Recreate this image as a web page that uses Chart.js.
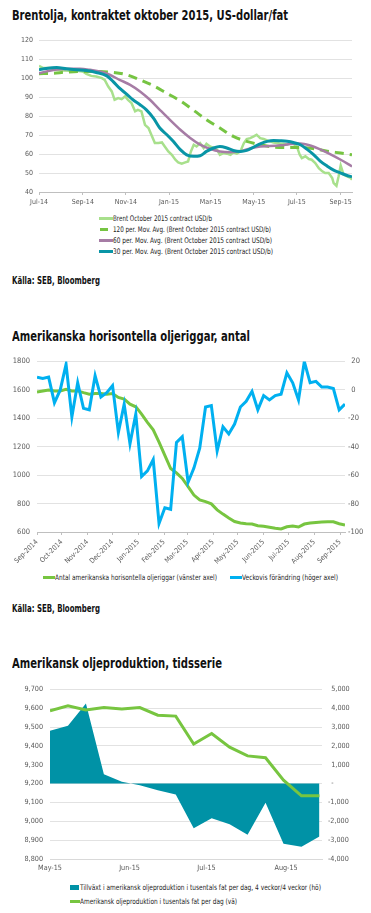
<!DOCTYPE html>
<html>
<head>
<meta charset="utf-8">
<script src="https://cdn.jsdelivr.net/npm/chart.js@4.4.0/dist/chart.umd.min.js"></script>
<style>
  body { margin: 0; width: 371px; height: 913px; background: #fff; position: relative; overflow: hidden;
         font-family: 'Liberation Sans Narrow', 'DejaVu Sans Condensed', 'Arial Narrow', sans-serif; }
  .title { position: absolute; left: 12px; font-weight: bold; font-size: 13.5px; line-height: 16px; color: #111; white-space: nowrap; }
  .source { position: absolute; left: 12px; font-weight: bold; font-size: 10.5px; line-height: 12px; color: #111; white-space: nowrap; }
  canvas { position: absolute; left: 0; }
  .legend { position: absolute; font-size: 7.7px; color: #222; white-space: nowrap; }
  .legend .item { display: flex; align-items: center; }
  .legend .swatch { display: inline-block; flex: none; }
  .legend .txt { display: inline-block; }
</style>
</head>
<body>
<div class="title" data-w="276" style="top:7px">Brentolja, kontraktet oktober 2015, US-dollar/fat</div>
<canvas id="brent" width="371" height="182" style="top:30px"></canvas>
<div class="legend" id="brentLegend" style="left:99px; top:213px"></div>
<div class="source" data-w="88" style="top:274px">Källa: SEB, Bloomberg</div>

<div class="title" data-w="238" style="top:328px">Amerikanska horisontella oljeriggar, antal</div>
<canvas id="rigs" width="371" height="220" style="top:350px"></canvas>
<div class="legend" id="rigsLegend" style="left:43px; top:572px; width:320px; height:11px"></div>
<div class="source" data-w="88" style="top:602px">Källa: SEB, Bloomberg</div>

<div class="title" data-w="210" style="top:655px">Amerikansk oljeproduktion, tidsserie</div>
<canvas id="prod" width="371" height="200" style="top:678px"></canvas>
<div class="legend" id="prodLegend" style="left:70px; top:880px"></div>

<script>
// ---- Brentolja (dagar från 1 jul 2014) ----
const brentTickDays = [0, 62, 123, 184, 243, 304, 365, 427];
const brentTickLabels = ['Jul-14', 'Sep-14', 'Nov-14', 'Jan-15', 'Mar-15', 'May-15', 'Jul-15', 'Sep-15'];
const brentSeriesNames = [
  'Brent October 2015 contract USD/b',
  '120 per. Mov. Avg. (Brent October 2015 contract USD/b)',
  '60 per. Mov. Avg. (Brent October 2015 contract USD/b)',
  '30 per. Mov. Avg. (Brent October 2015 contract USD/b)'
];
const brentDays = [0,6,15,25,34,44,53,62,67,74,81,89,93,98,103,107,112,117,122,126,131,136,140,145,150,155,159,164,169,174,178,183,188,193,197,202,207,211,215,219,223,228,233,237,242,247,252,256,261,266,271,275,280,285,290,294,299,304,308,313,318,323,327,332,337,342,346,351,356,360,365,369,372,377,382,386,391,396,401,405,410,415,417,421,424,427,431,436,441,443];
const brentPrice = [106.5,105.3,105.3,104.7,104,103.9,103.9,103.5,102.3,101.2,100.9,100,99.1,95.6,93,88.6,89.5,88.9,90.4,88.6,86.8,82.5,83.3,82.5,75.4,73.7,70.2,65.8,65.8,66.1,64,61.4,59.6,57,55.6,54.9,55.6,56.1,61.4,64.9,64,65.8,63.2,65.4,64,63.2,62.3,59.6,60.5,60.2,59.6,60.9,60.2,61.4,65.8,67.9,68.4,69.3,70.2,68.4,67.9,67.2,66.7,66.1,65.8,65.4,65.4,64.9,65.8,65.4,64,59.6,57.9,58.8,57.4,57,55.3,52.6,50.9,50,50,47.4,44.7,43.3,48.2,53.9,49.1,48.2,47.4,46.5];
const ma120Days = [0,20,39,62,86,105,124,143,162,181,200,219,237,256,275,294,313,332,351,370,389,408,427,443];
const ma120 = [102.3,102.6,103.2,103.5,103.5,103,101.8,99.1,96,92,88,83,78.1,73.7,69.3,66.7,64.9,63.7,63.5,63.5,62.8,61.5,60.5,59.6];
const ma60Days = [0,15,29,44,58,72,86,100,114,129,143,157,171,185,200,214,228,242,256,271,285,299,313,327,342,356,370,384,398,412,427,443];
const ma60 = [102.6,103.9,104.7,104.9,104.9,104.4,103.5,101.8,99.1,96.5,93,88.6,83.3,78.1,72.8,68.5,65,62.8,61.4,61,61.4,63,64,64.2,64.6,65.3,65.6,64.5,62.5,60,57,53.5];
const ma30Days = [0,10,25,39,53,67,81,96,105,114,124,133,143,152,162,171,181,190,200,209,219,228,237,247,256,266,275,285,294,304,313,323,332,342,351,360,370,379,389,398,408,417,427,436,443];
const ma30 = [104.4,105.1,105.6,104.9,104.4,104,103,101.2,98.2,94.7,91.6,88.6,86,83.3,78.9,73.7,70.2,66.7,62.3,59.6,58.8,59.1,61.4,63.2,64,63.2,61.9,61.4,61.9,63.7,65.4,66.7,67.2,67,66.7,66.1,64.9,62.6,59.6,56.3,53.6,51.5,50,48.7,48];

// ---- Oljeriggar (dagar från 1 sep 2014) ----
const rigTickDays = [0, 30, 61, 91, 122, 153, 181, 212, 242, 273, 303, 334, 365];
const rigTickLabels = ['Sep-2014','Oct-2014','Nov-2014','Dec-2014','Jan-2015','Feb-2015','Mar-2015','Apr-2015','May-2015','Jun-2015','Jul-2015','Aug-2015','Sep-2015'];
const rigSeriesNames = ['Antal amerikanska horisontella oljeriggar (vänster axel)', 'Veckovis förändring (höger axel)'];
const rigDays = [0,7,14,21,28,35,42,49,56,63,70,77,84,91,98,105,112,119,126,133,140,147,154,161,168,175,182,189,196,203,210,217,224,231,238,245,252,259,266,273,280,287,294,301,308,315,322,329,336,343,350,357,364,371];
const rigCount = [1586,1593,1600,1593,1593,1605,1593,1593,1581,1570,1574,1574,1570,1574,1547,1535,1500,1481,1430,1372,1319,1233,1140,1047,1016,977,919,860,826,814,798,756,726,698,674,663,658,656,644,640,633,626,621,637,642,635,656,663,667,670,672,672,658,649];
const rigChange = [9,8,9,-9,0,18,-19,5,-13,-14,10,-5,-2,3,-30,-10,-38,-17,-61,-57,-49,-94,-83,-84,-37,-33,-65,-55,-41,-12,-11,-43,-26,-31,-24,-12,-8,-1,-14,-4,-7,-4,-3,12,5,-7,20,5,6,2,2,1,-14,-10];

// ---- Oljeproduktion (dagar från 1 maj 2015) ----
const prodTickDays = [0, 31, 61, 92];
const prodTickLabels = ['May-15', 'Jun-15', 'Jul-15', 'Aug-15'];
const prodSeriesNames = [
  'Tillväxt i amerikansk oljeproduktion i tusentals fat per dag, 4 veckor/4 veckor (hö)',
  'Amerikansk oljeproduktion i tusentals fat per dag (vä)'
];
const prodDays = [0,7,14,21,28,35,42,49,56,63,70,77,84,91,98,105];
const prodGrowth = [2800,3070,4250,490,100,-90,-350,-580,-2370,-1840,-2160,-2720,-1020,-3190,-3350,-2800];
const prodLevel = [9586,9612,9590,9603,9595,9603,9563,9558,9410,9466,9393,9347,9337,9218,9135,9135];

const FONT = "'Liberation Sans Narrow', 'DejaVu Sans Condensed', 'Arial Narrow', sans-serif";
Chart.defaults.font.family = FONT;
Chart.defaults.color = '#595959';
Chart.defaults.animation = false;

const pairs = (xs, ys) => xs.map((x, i) => ({ x, y: ys[i] }));
const fixedTicks = (days) => (scale) => { scale.ticks = days.map(v => ({ value: v })); };
const common = {
  responsive: false,
  animation: false,
  elements: { point: { radius: 0 } },
  plugins: { legend: { display: false }, tooltip: { enabled: false } }
};

// legend i HTML, byggd från diagrammets dataset
// layout: [{left, top, swatchW, gap, textW}] per item
function buildLegend(el, chart, layout) {
  chart.data.datasets.forEach((ds, i) => {
    const L = layout[i];
    const item = document.createElement('div');
    item.className = 'item';
    item.style.cssText = 'position:absolute;height:11px;left:' + L.left + 'px;top:' + L.top + 'px';
    const sw = document.createElement('span');
    sw.className = 'swatch';
    if (ds.fill) {
      sw.style.cssText = 'width:' + L.swatchW + 'px;height:5px;background:' + ds.backgroundColor;
    } else {
      sw.style.cssText = 'width:' + L.swatchW + 'px;height:3px;background:' + ds.borderColor;
    }
    sw.style.marginRight = L.gap + 'px';
    const txt = document.createElement('span');
    txt.className = 'txt';
    txt.textContent = ds.label;
    txt.dataset.w = L.textW;
    item.appendChild(sw);
    item.appendChild(txt);
    el.appendChild(item);
  });
}

// Diagram 1
const brentChart = new Chart(document.getElementById('brent'), {
  type: 'line',
  data: {
    datasets: [
      { label: brentSeriesNames[0], data: pairs(brentDays, brentPrice), borderColor: '#a8e08c', borderWidth: 2.5, tension: 0, order: 4 },
      { label: brentSeriesNames[1], data: pairs(ma120Days, ma120), borderColor: '#76c442', borderWidth: 3, borderDash: [9, 6], cubicInterpolationMode: 'monotone', order: 3 },
      { label: brentSeriesNames[2], data: pairs(ma60Days, ma60), borderColor: '#a67ca5', borderWidth: 2.5, cubicInterpolationMode: 'monotone', order: 2 },
      { label: brentSeriesNames[3], data: pairs(ma30Days, ma30), borderColor: '#0995a6', borderWidth: 3, cubicInterpolationMode: 'monotone', order: 1 }
    ]
  },
  options: {
    ...common,
    layout: { padding: { top: 10, right: 19, left: 0, bottom: 0 } },
    scales: {
      x: {
        type: 'linear', min: 0, max: 443,
        afterBuildTicks: fixedTicks(brentTickDays),
        afterFit: s => { s.height = 20; },
        ticks: { callback: (v, i) => brentTickLabels[i], autoSkip: false, maxRotation: 0, padding: 3, font: { size: 7 } },
        grid: { drawOnChartArea: false, tickLength: 3, color: '#bfbfbf' },
        border: { color: '#bfbfbf' }
      },
      y: {
        min: 40, max: 120,
        afterFit: s => { s.width = 39; },
        ticks: { stepSize: 10, padding: 6, font: { size: 7 } },
        grid: { color: '#e2e2e2', drawTicks: false },
        border: { display: false }
      }
    }
  }
});

// Diagram 2
const rigsChart = new Chart(document.getElementById('rigs'), {
  type: 'line',
  data: {
    datasets: [
      { label: rigSeriesNames[0], data: pairs(rigDays, rigCount), borderColor: '#77c540', borderWidth: 3, tension: 0, yAxisID: 'y', order: 2 },
      { label: rigSeriesNames[1], data: pairs(rigDays, rigChange), borderColor: '#00b0f0', borderWidth: 3, tension: 0, yAxisID: 'y2', order: 1 }
    ]
  },
  options: {
    ...common,
    layout: { padding: { top: 10, right: 0, left: 0, bottom: 0 } },
    scales: {
      x: {
        type: 'linear', min: 0, max: 371,
        afterBuildTicks: fixedTicks(rigTickDays),
        afterFit: s => { s.height = 38; },
        ticks: { callback: (v, i) => rigTickLabels[i], autoSkip: false, minRotation: 45, maxRotation: 45, padding: 3, font: { size: 7 } },
        grid: { drawOnChartArea: false, tickLength: 3, color: '#bfbfbf' },
        border: { color: '#bfbfbf' }
      },
      y: {
        position: 'left', min: 600, max: 1800,
        afterFit: s => { s.width = 37; },
        ticks: { stepSize: 200, padding: 7, font: { size: 7.5 }, callback: v => String(v) },
        grid: { color: '#e2e2e2', drawTicks: false },
        border: { display: false }
      },
      y2: {
        position: 'right', min: -100, max: 20,
        afterFit: s => { s.width = 26; },
        ticks: { stepSize: 20, padding: 3, font: { size: 7.5 }, callback: v => (v >= 0 ? '\u2002' : '') + v },
        grid: { drawOnChartArea: false, drawTicks: false },
        border: { display: false }
      }
    }
  }
});

// Diagram 3
const prodChart = new Chart(document.getElementById('prod'), {
  type: 'line',
  data: {
    datasets: [
      { label: prodSeriesNames[0], data: pairs(prodDays, prodGrowth), borderWidth: 0, borderColor: '#0092a6', backgroundColor: '#0092a6', fill: 'origin', tension: 0, yAxisID: 'y2', order: 2 },
      { label: prodSeriesNames[1], data: pairs(prodDays, prodLevel), borderColor: '#77c540', borderWidth: 3, tension: 0, yAxisID: 'y', order: 1 }
    ]
  },
  options: {
    ...common,
    layout: { padding: { top: 10, right: 0, left: 0, bottom: 0 } },
    scales: {
      x: {
        type: 'linear', min: 0, max: 106,
        afterBuildTicks: fixedTicks(prodTickDays),
        afterFit: s => { s.height = 19; },
        ticks: { callback: (v, i) => prodTickLabels[i], autoSkip: false, maxRotation: 0, padding: 5, font: { size: 7.2 } },
        grid: { display: false, drawTicks: false },
        border: { color: '#d9d9d9' }
      },
      y: {
        position: 'left', min: 8800, max: 9700,
        afterFit: s => { s.width = 50; },
        ticks: { stepSize: 100, padding: 7, font: { size: 7.2 }, callback: v => v.toLocaleString('en-US') },
        grid: { color: '#e2e2e2', drawTicks: false },
        border: { display: false }
      },
      y2: {
        position: 'right', min: -4000, max: 5000,
        afterFit: s => { s.width = 49; },
        ticks: { stepSize: 1000, padding: 6, font: { size: 7.2 },
                 callback: v => v === 0 ? '\u2002-' : (v > 0 ? '\u2002' : '') + v.toLocaleString('en-US') },
        grid: { drawOnChartArea: false, drawTicks: false },
        border: { display: false }
      }
    }
  }
});

buildLegend(document.getElementById('brentLegend'), brentChart, [
  { left: 0, top: 0,    swatchW: 14, gap: 0, textW: 99 },
  { left: 1, top: 11.1, swatchW: 8,  gap: 5, textW: 158 },
  { left: 0, top: 22.3, swatchW: 14, gap: 0, textW: 159 },
  { left: 0, top: 33.4, swatchW: 14, gap: 0, textW: 160 }
]);
buildLegend(document.getElementById('rigsLegend'), rigsChart, [
  { left: 0,   top: 0, swatchW: 12, gap: 0, textW: 162 },
  { left: 187, top: 0, swatchW: 12, gap: 0, textW: 96 }
]);
buildLegend(document.getElementById('prodLegend'), prodChart, [
  { left: 0, top: 2,    swatchW: 9,  gap: 1, textW: 241 },
  { left: 0, top: 16.4, swatchW: 10, gap: 0, textW: 157 }
]);

// skala texterna horisontellt till referensens bredd (smal typsnittsersättning)
function fitText() {
  document.querySelectorAll('[data-w]').forEach(el => {
    el.style.transform = 'none';
    const w = el.getBoundingClientRect().width;
    el.style.transformOrigin = '0 50%';
    el.style.transform = 'scaleX(' + (parseFloat(el.dataset.w) / w) + ')';
  });
}
fitText();
</script>
</body>
</html>
